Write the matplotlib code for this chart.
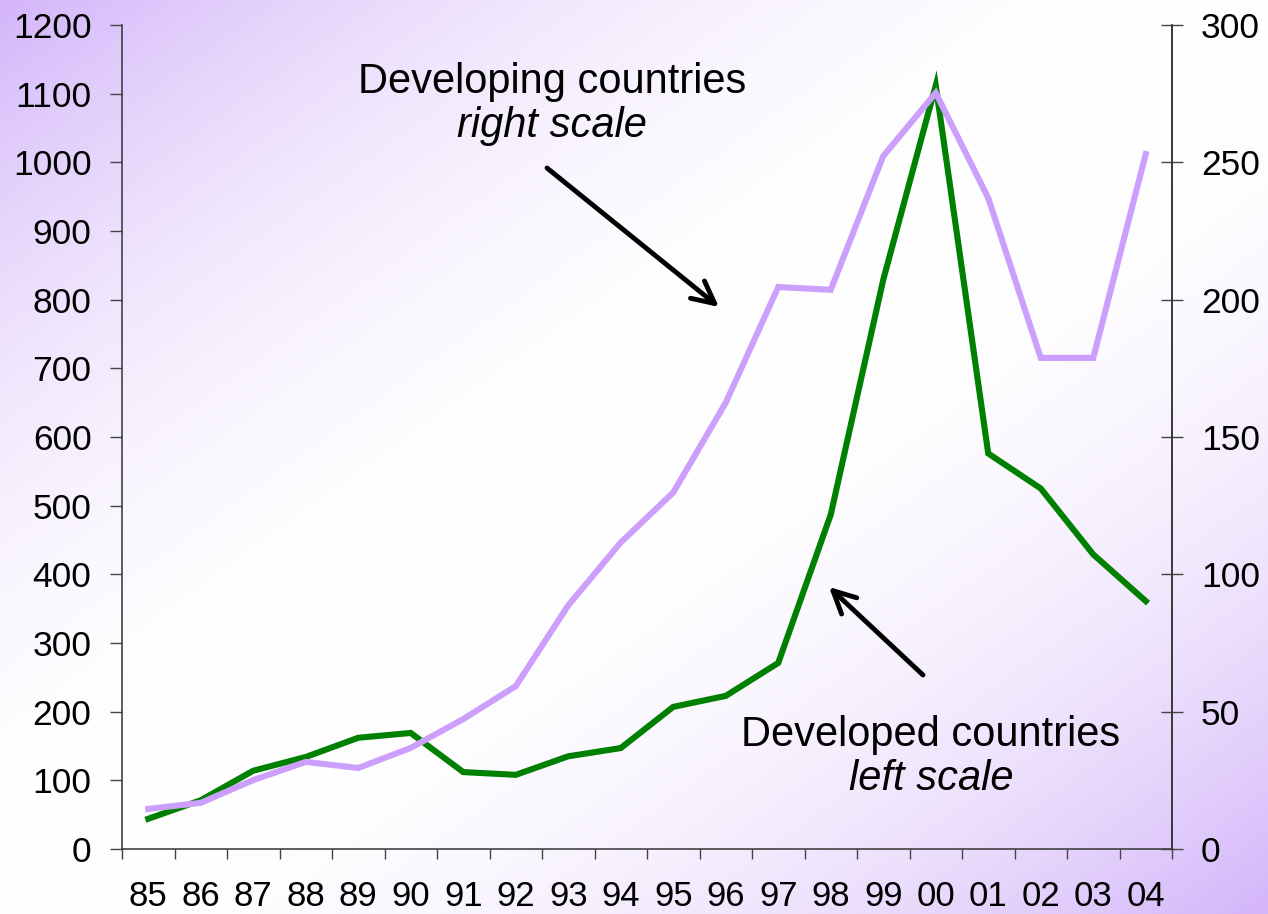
import numpy as np
import matplotlib
matplotlib.use('Agg')
import matplotlib.pyplot as plt

plt.rcParams['font.family'] = ['Liberation Sans', 'DejaVu Sans']

years = ['85', '86', '87', '88', '89', '90', '91', '92', '93', '94',
         '95', '96', '97', '98', '99', '00', '01', '02', '03', '04']
# developed countries, left scale
developed = [44, 71, 114, 134, 162, 169, 112, 108, 135, 147,
             207, 223, 271, 487, 829, 1112, 576, 525, 429, 361]
# developing countries, right scale
developing = [14.6, 16.8, 25.1, 31.7, 29.5, 36.8, 47.3, 59.3, 88.7, 111.6,
              129.8, 162.5, 204.6, 203.6, 252.3, 275.3, 237, 178.8, 178.8, 253]

W, H = 1268, 914
fig = plt.figure(figsize=(W / 100, H / 100), dpi=100)

# diagonal purple-white-purple background
bg = fig.add_axes([0, 0, 1, 1], zorder=-10)
gx, gy = np.meshgrid(np.linspace(0, 1, W), np.linspace(0, 1, H))
s = np.abs(gx + gy - 1.0)
w = np.clip(s, 0, 1) ** 2.0
purple = np.array([0.83, 0.71, 0.98])
img = 1 - w[..., None] * (1 - purple)
bg.imshow(img, aspect='auto', extent=[0, 1, 0, 1], origin='upper')
bg.axis('off')

ax = fig.add_axes([122 / W, (H - 849) / H, (1172 - 122) / W, (849 - 25) / H])
ax.patch.set_alpha(0)
ax2 = ax.twinx()

x = np.arange(len(years))
ax.plot(x, developed, color='#008000', lw=4.4, solid_joinstyle='miter')
ax2.plot(x, developing, color='#cc9ffc', lw=4.4, solid_joinstyle='miter')

ax.set_xlim(-0.5, len(years) - 0.5)
ax.set_ylim(0, 1200)
ax2.set_ylim(0, 300)
ax.set_yticks(range(0, 1201, 100))
ax2.set_yticks(range(0, 301, 50))

ax.set_xticks(np.arange(-0.5, len(years), 1.0))
ax.set_xticklabels([])
ax.set_xticks(x, minor=True)
ax.set_xticklabels(years, minor=True)
ax.tick_params(axis='x', which='major', direction='out', length=7.2, width=1, color='#444444')
ax.tick_params(axis='x', which='minor', length=0, pad=22, labelsize=25)
ax.tick_params(axis='y', direction='out', length=8.9, width=1, color='#444444', pad=13, labelsize=25.5)
ax2.tick_params(axis='y', direction='inout', length=16.5, width=1, color='#444444', pad=12.5, labelsize=25.5)

for a in (ax, ax2):
    a.spines['top'].set_visible(False)
    for sp in a.spines.values():
        sp.set_color('#333333')
        sp.set_linewidth(1.1)
ax2.spines['left'].set_visible(False)
ax2.spines['bottom'].set_visible(False)

# annotations
fig.text(552 / W, 1 - 93 / H, 'Developing countries', fontsize=30,
         ha='center', va='baseline')
fig.text(552 / W, 1 - 137 / H, 'right scale', fontsize=30, style='italic',
         ha='center', va='baseline')
fig.text(931 / W, 1 - 746 / H, 'Developed countries', fontsize=30,
         ha='center', va='baseline')
fig.text(931 / W, 1 - 790 / H, 'left scale', fontsize=30, style='italic',
         ha='center', va='baseline')

arrow = dict(arrowstyle='->', lw=3.5, color='black', mutation_scale=40,
             shrinkA=0, shrinkB=0)
ax.annotate('', xy=(719 / W, 1 - 307 / H), xytext=(547 / W, 1 - 168 / H),
            xycoords='figure fraction', textcoords='figure fraction', arrowprops=arrow)
ax.annotate('', xy=(829 / W, 1 - 587 / H), xytext=(923 / W, 1 - 675 / H),
            xycoords='figure fraction', textcoords='figure fraction', arrowprops=arrow)

fig.savefig('out.png', dpi=100)
